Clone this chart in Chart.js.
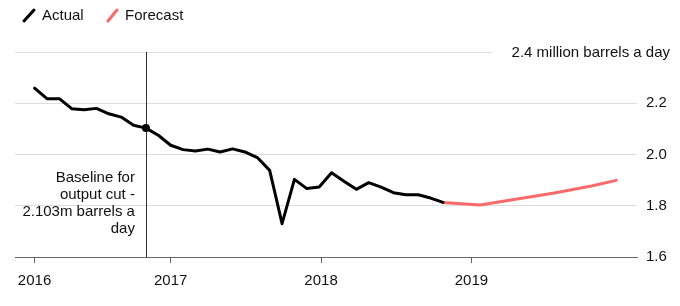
<!DOCTYPE html>
<html>
<head>
<meta charset="utf-8">
<script src="https://cdn.jsdelivr.net/npm/chart.js@4/dist/chart.umd.min.js"></script>
<style>
    html, body { margin: 0; padding: 0; background: #fff; }
</style>
</head>
<body>
<canvas id="graph" width="680" height="306"></canvas>
<script>

// months counted from start of 2016 (1 = end of Jan 2016)
var actualMonths = [1, 2, 3, 4, 5, 6, 7, 8, 9, 10, 11, 12,
                    13, 14, 15, 16, 17, 18, 19, 20, 21, 22, 23, 24,
                    25, 26, 27, 28, 29, 30, 31, 32, 33, 34];
var actualValues = [2.259, 2.218, 2.218, 2.179, 2.175, 2.180, 2.159, 2.146, 2.114, 2.103, 2.075, 2.036,
                    2.019, 2.014, 2.021, 2.010, 2.022, 2.010, 1.988, 1.938, 1.730, 1.903, 1.867, 1.873,
                    1.929, 1.896, 1.864, 1.890, 1.873, 1.851, 1.843, 1.843, 1.830, 1.813];

var forecastMonths = [34, 37, 40, 43, 46, 48];
var forecastValues = [1.813, 1.803, 1.826, 1.850, 1.877, 1.899];

var yearTicks = [1, 12, 24.15, 36.3];
var yearLabels = ['2016', '2017', '2018', '2019'];

var yTicks = [1.6, 1.8, 2.0, 2.2, 2.4];
var unitLabel = '2.4 million barrels a day';

var baselineMonth = 10;
var baselineText = ['Baseline for', 'output cut -', '2.103m barrels a', 'day'];

var BLACK = '#000000';
var RED = '#fb6a6a';
var TEXT = '#111111';
var FONT = '"Liberation Sans", Arial, sans-serif';

Chart.defaults.font.family = FONT;
Chart.defaults.font.size = 15;
Chart.defaults.color = TEXT;

function pts(xs, ys){
    var out = [];
    for (var i = 0; i < xs.length; i++) out.push({x: xs[i], y: ys[i]});
    return out;
}

function isTop(v){
    return Math.abs(v - 2.4) < 1e-6;
}


var extras = {
    id: 'extras',
    beforeDatasetsDraw(chart){
        var ctx = chart.ctx;
        var xs = chart.scales.x, ys = chart.scales.y;
        var area = chart.chartArea;
        ctx.save();

        // top gridline, stops short of its label
        ctx.strokeStyle = '#dddddd';
        ctx.lineWidth = 1;
        var yTop = Math.round(ys.getPixelForValue(2.4)) + 0.5;
        ctx.beginPath();
        ctx.moveTo(area.left, yTop);
        ctx.lineTo(492, yTop);
        ctx.stroke();

        // baseline marker
        var bx = Math.round(xs.getPixelForValue(baselineMonth)) + 0.5;
        ctx.strokeStyle = '#333333';
        ctx.beginPath();
        ctx.moveTo(bx, ys.getPixelForValue(2.4));
        ctx.lineTo(bx, ys.getPixelForValue(1.6));
        ctx.stroke();
        ctx.restore();
    },
    afterDraw(chart){
        var ctx = chart.ctx;
        var xs = chart.scales.x, ys = chart.scales.y;
        ctx.save();
        ctx.font = '15px ' + FONT;
        ctx.fillStyle = TEXT;
        ctx.textBaseline = 'middle';

        ctx.textAlign = 'right';
        ctx.fillText(unitLabel, 670, ys.getPixelForValue(2.4) + 1);

        var bx = xs.getPixelForValue(baselineMonth);
        for (var i = 0; i < baselineText.length; i++){
            ctx.fillText(baselineText[i], bx - 11, 178 + i * 16.8);
        }

        // legend
        ctx.textAlign = 'left';
        ctx.lineWidth = 3;
        ctx.lineCap = 'round';
        ctx.strokeStyle = BLACK;
        ctx.beginPath(); ctx.moveTo(24, 21); ctx.lineTo(34, 10); ctx.stroke();
        ctx.fillText('Actual', 42, 16);
        ctx.strokeStyle = RED;
        ctx.beginPath(); ctx.moveTo(108, 21); ctx.lineTo(117, 10); ctx.stroke();
        ctx.fillText('Forecast', 125, 16);
        ctx.restore();
    }
};


var chart = new Chart(document.querySelector('#graph').getContext('2d'), {
    type: 'line',
    data: {
        datasets: [
            {
                label: 'Actual',
                data: pts(actualMonths, actualValues),
                borderColor: BLACK,
                backgroundColor: BLACK,
                borderWidth: 3,
                tension: 0,
                borderJoinStyle: 'round',
                borderCapStyle: 'round',
                pointRadius: function(c){ return actualMonths[c.dataIndex] === baselineMonth ? 4 : 0; },
                pointBorderWidth: 0,
                pointHoverRadius: 0
            },
            {
                label: 'Forecast',
                data: pts(forecastMonths, forecastValues),
                borderColor: RED,
                backgroundColor: RED,
                borderWidth: 3,
                tension: 0,
                borderJoinStyle: 'round',
                borderCapStyle: 'round',
                pointRadius: 0,
                pointHoverRadius: 0
            }
        ]
    },
    options: {
        responsive: false,
        animation: false,
        events: [],
        layout: { padding: { top: 52, left: 15, right: 0, bottom: 0 } },
        plugins: {
            legend: { display: false },
            tooltip: { enabled: false }
        },
        scales: {
            x: {
                type: 'linear',
                min: -0.58,
                max: 49.68,
                afterBuildTicks(scale){
                    scale.ticks = yearTicks.map(function(v){ return {value: v}; });
                },
                afterFit(scale){ scale.height = 49; },
                ticks: {
                    autoSkip: false,
                    maxRotation: 0,
                    padding: 9,
                    color: TEXT,
                    callback: function(v, i){ return yearLabels[i]; }
                },
                grid: {
                    drawOnChartArea: false,
                    drawTicks: true,
                    tickLength: 6,
                    tickColor: '#666666',
                    tickWidth: 1
                },
                border: { display: true, color: '#666666', width: 1 }
            },
            y: {
                position: 'right',
                min: 1.6,
                max: 2.4,
                afterBuildTicks(scale){
                    scale.ticks = yTicks.map(function(v){ return {value: v}; });
                },
                afterFit(scale){ scale.width = 43; },
                ticks: {
                    padding: 9,
                    color: TEXT,
                    callback: function(v){ return isTop(v) ? '' : v.toFixed(1); }
                },
                grid: {
                    drawTicks: false,
                    color: function(c){ return (c.tick && isTop(c.tick.value)) ? 'rgba(0,0,0,0)' : '#dddddd'; }
                },
                border: { display: false }
            }
        }
    },
    plugins: [extras]
});
</script>
</body>
</html>
